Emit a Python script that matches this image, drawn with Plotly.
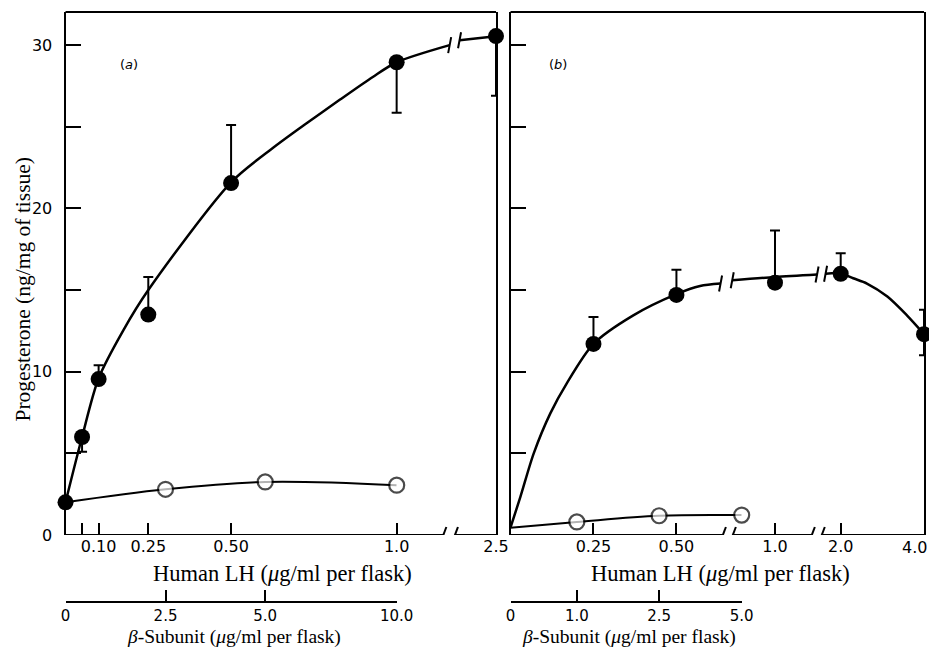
import numpy as np
import plotly.graph_objects as go

# ---------------- data ----------------
# Panel (a): human LH
LH_A = [0, 0.05, 0.10, 0.25, 0.50, 1.0, 2.5]
PROG_LH_A = [2.0, 6.0, 9.55, 13.5, 21.55, 28.95, 30.55]
ERR_UP_A = [0, 0, 0.85, 2.3, 3.55, 0, 0]
ERR_DOWN_A = [0, 0.9, 0, 0, 0, 3.1, 3.65]
# drawn (fitted) curve for panel (a); None = axis break
CURVE_LH_A = [0, 0.05, 0.10, 0.175, 0.25, 0.50, 0.626, 0.727, 0.828, 0.928, 1.0, 1.80, None, 1.95, 2.5]
CURVE_PROG_A = [2.0, 6.0, 9.6, 12.55, 15.0, 21.6, 23.7, 25.2, 26.65, 28.05, 28.95, 30.0, None, 30.3, 30.55]
# Panel (a): beta-subunit
BETA_A = [0, 2.5, 5.0, 10.0]
PROG_BETA_A = [2.0, 2.8, 3.25, 3.05]

# Panel (b): human LH
LH_B = [0.25, 0.50, 1.0, 2.0, 4.0]
PROG_LH_B = [11.7, 14.7, 15.45, 16.0, 12.3]
ERR_UP_B = [1.65, 1.55, 3.2, 1.25, 1.5]
ERR_DOWN_B = [0, 0, 0, 0, 1.3]
CURVE_LH_B = [0, 0.03, 0.07, 0.12, 0.17, 0.25, 0.37, 0.50, 0.62, 0.724, None,
              0.783, 1.0, 1.64, None, 1.77, 2.0, 2.3, 2.63, 3.12, 3.59, 4.0]
CURVE_PROG_B = [0.45, 2.35, 5.0, 7.45, 9.3, 11.7, 13.45, 14.75, 15.25, 15.4, None,
                15.6, 15.8, 15.95, None, 16.0, 16.02, 15.72, 15.4, 14.6, 13.45, 12.3]
# Panel (b): beta-subunit
BETA_B = [0, 1.0, 2.5, 5.0]
PROG_BETA_B = [0.45, 0.8, 1.18, 1.22]

# tick labels
Y_TICKS = [0, 5, 10, 15, 20, 25, 30]
Y_TICK_TEXT = ["0", "", "10", "", "20", "", "30"]
LH_TICKS_A = [0.05, 0.10, 0.25, 0.50, 1.0, 2.5]
LH_TICK_TEXT_A = ["", "0.10", "0.25", "0.50", "1.0", "2.5"]
LH_TICKS_B = [0.25, 0.50, 1.0, 2.0, 4.0]
LH_TICK_TEXT_B = ["0.25", "0.50", "1.0", "2.0", "4.0"]
BETA_TICK_TEXT_A = ["0", "2.5", "5.0", "10.0"]
BETA_TICK_TEXT_B = ["0", "1.0", "2.5", "5.0"]

# ---------------- broken-axis scales (axis position units) ----------------
SCALE_A_LH = [0, 1.0, 2.5]
SCALE_A_POS = [0, 1.0, 1.30]
SCALE_B_LH = [0, 0.5, 1.0, 2.0, 4.0]
SCALE_B_POS = [0, 0.5, 0.797, 0.995, 1.246]
BETA_SCALE_A_POS = [0, 0.302, 0.603, 1.0]
BETA_SCALE_B_POS = [0, 0.2, 0.448, 0.697]
AXIS_BREAKS_A = [(1.141, 1.176)]
AXIS_BREAKS_B = [(0.640, 0.670), (0.908, 0.938)]


def to_pos(vals, src, dst):
    return [None if v is None else float(np.interp(v, src, dst)) for v in vals]


# page body has an 8px margin: figure sized to fit inside the 937x658 window
OFF = 8
W, H = 937 - 2 * OFF, 658 - 2 * OFF
def fx(p):
    return (p - OFF) / W
def fy(p):
    return 1 - (p - OFF) / H

Y_TOP = (535 - 12) / 16.33
SERIF = "Liberation Serif"
SANS = "DejaVu Sans"
TICKFONT = dict(family=SANS, size=16, color="black")
BETA_TICKFONT = dict(family=SANS, size=15, color="black")

fig = go.Figure()


def add_panel(xa, ya, xb, lh, prog, up, down, clh, cprog, beta, pbeta,
              scale_lh, scale_pos, beta_pos):
    xs = to_pos(lh, scale_lh, scale_pos)
    cx = to_pos(clh, scale_lh, scale_pos)
    bx = to_pos(beta, [v for v in beta], beta_pos)
    # beta-subunit (open circles); the zero-dose point is the shared control
    sizes = [0] + [15] * (len(beta) - 1)
    fig.add_trace(go.Scatter(x=bx, y=pbeta, xaxis=xb, yaxis=ya, mode="lines+markers",
                             line=dict(color="black", width=2, shape="spline"),
                             marker=dict(size=sizes, color="white", symbol="circle",
                                         line=dict(color="black", width=2.2)),
                             cliponaxis=False, showlegend=False, hoverinfo="skip"))
    # fitted LH curve
    fig.add_trace(go.Scatter(x=cx, y=cprog, xaxis=xa, yaxis=ya, mode="lines",
                             line=dict(color="black", width=2.5, shape="spline", smoothing=0.8),
                             connectgaps=False, cliponaxis=False, showlegend=False,
                             hoverinfo="skip"))
    # LH points
    fig.add_trace(go.Scatter(x=xs, y=prog, xaxis=xa, yaxis=ya, mode="markers",
                             marker=dict(size=16, color="black"),
                             error_y=dict(type="data", symmetric=False, array=up,
                                          arrayminus=down, color="black",
                                          thickness=2, width=5),
                             cliponaxis=False, showlegend=False, hoverinfo="skip"))
    # curve break marks
    for i, v in enumerate(cx):
        if v is None:
            for j in (i - 1, i + 1):
                fig.add_shape(type="line", xref=xa, yref=ya, xsizemode="pixel",
                              ysizemode="pixel", xanchor=cx[j], yanchor=cprog[j],
                              x0=-1.5, x1=1.5, y0=-8, y1=8,
                              line=dict(color="black", width=2))


add_panel("x", "y", "x3", LH_A, PROG_LH_A, ERR_UP_A, ERR_DOWN_A, CURVE_LH_A, CURVE_PROG_A,
          BETA_A, PROG_BETA_A, SCALE_A_LH, SCALE_A_POS, BETA_SCALE_A_POS)
add_panel("x2", "y2", "x4", LH_B, PROG_LH_B, ERR_UP_B, ERR_DOWN_B, CURVE_LH_B, CURVE_PROG_B,
          BETA_B, PROG_BETA_B, SCALE_B_LH, SCALE_B_POS, BETA_SCALE_B_POS)

# x-axis lines with breaks
for xa, ya, breaks, end in (("x", "y", AXIS_BREAKS_A, SCALE_A_POS[-1]),
                            ("x2", "y2", AXIS_BREAKS_B, SCALE_B_POS[-1])):
    start = 0
    for b0, b1 in breaks:
        fig.add_shape(type="line", xref=xa, yref=ya, x0=start, x1=b0, y0=0, y1=0,
                      line=dict(color="black", width=2))
        for b in (b0, b1):
            fig.add_shape(type="line", xref=xa, yref=ya, xsizemode="pixel",
                          ysizemode="pixel", xanchor=b, yanchor=0,
                          x0=-3, x1=3, y0=-8, y1=8, line=dict(color="black", width=2))
        start = b1
    fig.add_shape(type="line", xref=xa, yref=ya, x0=start, x1=end, y0=0, y1=0,
                  line=dict(color="black", width=2))
    # top frame line
    fig.add_shape(type="line", xref=xa + " domain", yref=ya + " domain", x0=0, x1=1,
                  y0=1, y1=1, line=dict(color="black", width=2))

ydom = [fy(535), fy(12)]
common_x = dict(showgrid=False, zeroline=False, showline=False, ticks="inside",
                ticklen=12, tickwidth=2, tickcolor="black", tickfont=TICKFONT,
                fixedrange=True, automargin=False, ticklabeloverflow="allow")
common_y = dict(showgrid=False, zeroline=False, showline=True, mirror=True,
                linecolor="black", linewidth=2, ticks="inside", ticklen=15,
                tickwidth=2, tickcolor="black", tickfont=dict(family=SANS, size=16, color="black"),
                range=[0, Y_TOP], tickvals=Y_TICKS, ticktext=Y_TICK_TEXT, fixedrange=True,
                automargin=False)
beta_x = dict(showgrid=False, zeroline=False, showline=True, linecolor="black",
              linewidth=2, ticks="inside", ticklen=11, tickwidth=2, tickcolor="black",
              tickfont=BETA_TICKFONT, anchor="free", position=fy(602), fixedrange=True,
              automargin=False)

# the last tick label of panel (b) sits at the page edge: right-aligned annotation instead
tick_text_b = LH_TICK_TEXT_B[:-1] + [""]

fig.update_layout(
    width=W, height=H, margin=dict(l=0, r=0, t=0, b=0, autoexpand=False),
    paper_bgcolor="white", plot_bgcolor="rgba(0,0,0,0)", showlegend=False,
    xaxis=dict(common_x, domain=[fx(65.5), fx(496)], range=[0, SCALE_A_POS[-1]],
               tickvals=to_pos(LH_TICKS_A, SCALE_A_LH, SCALE_A_POS),
               ticktext=LH_TICK_TEXT_A, anchor="y"),
    xaxis2=dict(common_x, domain=[fx(510.5), fx(924)], range=[0, SCALE_B_POS[-1]],
                tickvals=to_pos(LH_TICKS_B, SCALE_B_LH, SCALE_B_POS),
                ticktext=tick_text_b, anchor="y2"),
    xaxis3=dict(beta_x, domain=[fx(65.5), fx(396.7)], range=[0, BETA_SCALE_A_POS[-1]],
                tickvals=BETA_SCALE_A_POS, ticktext=BETA_TICK_TEXT_A),
    xaxis4=dict(beta_x, domain=[fx(510.5), fx(741.7)], range=[0, BETA_SCALE_B_POS[-1]],
                tickvals=BETA_SCALE_B_POS, ticktext=BETA_TICK_TEXT_B),
    yaxis=dict(common_y, domain=ydom, anchor="x", ticklabelstandoff=8),
    yaxis2=dict(common_y, domain=ydom, anchor="x2", showticklabels=False),
)

fig.add_annotation(text=LH_TICK_TEXT_B[-1], x=1.0, y=fy(547), xref="paper", yref="paper",
                   showarrow=False, xanchor="right", yanchor="middle", font=TICKFONT)

TITLE_FONT = dict(family=SERIF, size=22.5, color="black")
BETA_FONT = dict(family=SERIF, size=19.5, color="black")
ann = [
    dict(text="Human LH (<i>μ</i>g/ml per flask)", x=fx(282), y=fy(573), font=TITLE_FONT),
    dict(text="Human LH (<i>μ</i>g/ml per flask)", x=fx(720), y=fy(573), font=TITLE_FONT),
    dict(text="<i>β</i>-Subunit (<i>μ</i>g/ml per flask)", x=fx(234), y=fy(636.5), font=BETA_FONT),
    dict(text="<i>β</i>-Subunit (<i>μ</i>g/ml per flask)", x=fx(629), y=fy(636.5), font=BETA_FONT),
]
for a in ann:
    fig.add_annotation(a, xref="paper", yref="paper", showarrow=False,
                       xanchor="center", yanchor="middle")
fig.add_annotation(text="Progesterone (ng/mg of tissue)", x=fx(22.5), y=fy(289),
                   xref="paper", yref="paper", showarrow=False, textangle=-90,
                   xanchor="center", yanchor="middle",
                   font=dict(family=SERIF, size=21.5, color="black"))
fig.add_annotation(text="(<i>a</i>)", x=fx(118), y=fy(55), xref="paper", yref="paper",
                   showarrow=False, font=dict(family=SANS, size=13, color="black"))
fig.add_annotation(text="(<i>b</i>)", x=fx(558), y=fy(55), xref="paper", yref="paper",
                   showarrow=False, font=dict(family=SANS, size=13, color="black"))

fig.write_html("out.html")
